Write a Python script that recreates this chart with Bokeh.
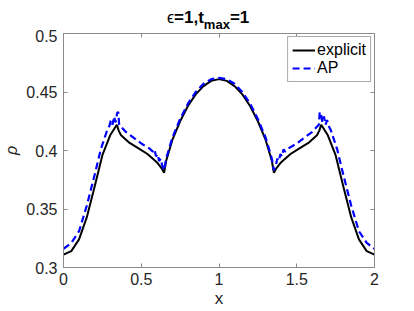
from bokeh.plotting import figure
from bokeh.models import (Range1d, LinearAxis, FixedTicker, PrintfTickFormatter,
                          CustomJSTickFormatter, Legend, LegendItem, Div)
from bokeh.layouts import column
from bokeh.embed import file_html
from bokeh.resources import INLINE

# ---- data ----
x_explicit = [0.00, 0.05, 0.10, 0.15, 0.20, 0.25, 0.30, 0.343, 0.355, 0.37, 0.42, 0.48,
              0.54, 0.60, 0.63, 0.647, 0.66, 0.70, 0.75, 0.80, 0.85, 0.90, 0.95, 1.00,
              1.05, 1.10, 1.15, 1.20, 1.25, 1.30, 1.34, 1.353, 1.37, 1.40, 1.46, 1.52,
              1.58, 1.63, 1.645, 1.657, 1.70, 1.75, 1.80, 1.85, 1.90, 1.95, 2.00]
rho_explicit = [0.311, 0.314, 0.324, 0.343, 0.369, 0.396, 0.413, 0.422, 0.417, 0.413, 0.407, 0.402,
                0.397, 0.390, 0.385, 0.381, 0.391, 0.409, 0.425, 0.438, 0.448, 0.455, 0.4595, 0.461,
                0.4595, 0.455, 0.448, 0.438, 0.425, 0.409, 0.391, 0.381, 0.385, 0.390, 0.397, 0.402,
                0.407, 0.413, 0.417, 0.422, 0.413, 0.396, 0.369, 0.343, 0.324, 0.314, 0.311]

x_ap = [0.00, 0.05, 0.10, 0.15, 0.20, 0.24, 0.28, 0.295, 0.305, 0.315, 0.325, 0.335, 0.345,
        0.352, 0.358, 0.40, 0.45, 0.50, 0.55, 0.575, 0.585, 0.595, 0.605, 0.615, 0.625,
        0.635, 0.647, 0.66, 0.70, 0.75, 0.80, 0.85, 0.90, 0.95, 1.00,
        1.05, 1.10, 1.15, 1.20, 1.25, 1.30, 1.34, 1.353, 1.365, 1.375, 1.385, 1.395,
        1.405, 1.415, 1.425, 1.45, 1.50, 1.55, 1.60, 1.642, 1.648, 1.655, 1.665, 1.675,
        1.685, 1.695, 1.705, 1.72, 1.76, 1.80, 1.85, 1.90, 1.95, 2.00]
rho_ap = [0.316, 0.321, 0.331, 0.353, 0.379, 0.401, 0.417, 0.421, 0.426, 0.422, 0.429, 0.424, 0.432,
          0.433, 0.422, 0.416, 0.411, 0.406, 0.402, 0.399, 0.401, 0.395, 0.397, 0.391, 0.393,
          0.387, 0.383, 0.393, 0.411, 0.427, 0.440, 0.450, 0.457, 0.461, 0.462,
          0.461, 0.457, 0.450, 0.440, 0.427, 0.411, 0.393, 0.383, 0.387, 0.393, 0.391, 0.397,
          0.395, 0.401, 0.399, 0.402, 0.406, 0.411, 0.416, 0.422, 0.433, 0.432, 0.424, 0.429,
          0.422, 0.426, 0.421, 0.417, 0.401, 0.379, 0.353, 0.331, 0.321, 0.316]

x_ticks = [0, 0.5, 1, 1.5, 2]
y_ticks = [0.3, 0.35, 0.4, 0.45, 0.5]
series_names = ["explicit", "AP"]

FONT = "Liberation Sans"
AXIS_COLOR = "#8a8a8a"
TEXT_COLOR = "#262626"

TITLE_H = 29
title = Div(
    text=('<span style="font-weight:normal;font-size:16px">\u03f5</span>=1,t'
          '<span style="font-size:13px;vertical-align:-6px">max</span>=1'),
    width=412, height=TITLE_H, margin=0,
    styles={"font-family": FONT, "font-size": "17px", "font-weight": "bold",
            "color": "black", "padding-left": "167px", "padding-top": "8px",
            "line-height": "normal", "box-sizing": "border-box"})

p = figure(width=412, height=310 - TITLE_H, output_backend="svg", toolbar_location=None,
           x_range=Range1d(0, 2), y_range=Range1d(0.3, 0.5),
           min_border_left=61, min_border_right=38, min_border_top=33 - TITLE_H,
           min_border_bottom=43)
p.outline_line_color = None
p.grid.visible = False
p.background_fill_color = "white"
p.border_fill_color = "white"
p.margin = 0

def style_axis(ax, ticks, show_labels):
    ax.ticker = FixedTicker(ticks=ticks)
    ax.axis_line_color = AXIS_COLOR
    ax.axis_line_width = 1
    ax.major_tick_line_color = AXIS_COLOR
    ax.major_tick_in = 4
    ax.major_tick_out = 0
    ax.minor_tick_line_color = None
    ax.major_label_text_font = FONT
    ax.major_label_text_color = TEXT_COLOR
    if show_labels:
        ax.formatter = PrintfTickFormatter(format="%g")
        ax.major_label_text_font_size = "16px"
        ax.major_label_standoff = 6
    else:
        ax.formatter = CustomJSTickFormatter(code="return ''")
        ax.major_label_text_font_size = "0px"
        ax.major_label_standoff = 0

bottom_ax = p.below[0]
left_ax = p.left[0]
style_axis(bottom_ax, x_ticks, True)
style_axis(left_ax, y_ticks, True)
bottom_ax.major_label_standoff = 5
top_ax = LinearAxis()
right_ax = LinearAxis()
style_axis(top_ax, x_ticks, False)
style_axis(right_ax, y_ticks, False)
p.add_layout(top_ax, "above")
p.add_layout(right_ax, "right")

bottom_ax.axis_label = "x"
bottom_ax.axis_label_text_font = FONT
bottom_ax.axis_label_text_font_size = "17px"
bottom_ax.axis_label_text_font_style = "normal"
bottom_ax.axis_label_text_color = TEXT_COLOR
bottom_ax.axis_label_standoff = 1

left_ax.axis_label = "\u03c1"
left_ax.axis_label_text_font = FONT
left_ax.axis_label_text_font_size = "16px"
left_ax.axis_label_text_font_style = "italic"
left_ax.axis_label_text_color = TEXT_COLOR
left_ax.axis_label_standoff = 3

r_exp = p.line(x_explicit, rho_explicit, line_color="black", line_width=2)
r_ap = p.line(x_ap, rho_ap, line_color="#0000ff", line_width=2.2, line_dash="7 4")

legend = Legend(items=[LegendItem(label=series_names[0], renderers=[r_exp]),
                       LegendItem(label=series_names[1], renderers=[r_ap])],
                location="top_right")
legend.label_text_font = FONT
legend.label_text_font_size = "16px"
legend.label_text_color = "black"
legend.border_line_color = "#555555"
legend.border_line_width = 1
legend.background_fill_alpha = 1
legend.margin = 3
legend.padding = 4
legend.spacing = 0
legend.glyph_width = 23
legend.glyph_height = 16
legend.label_height = 16
legend.label_standoff = 2
p.add_layout(legend, "center")

layout = column(title, p, spacing=0, margin=0)
open("out.html", "w").write(file_html(layout, INLINE))
